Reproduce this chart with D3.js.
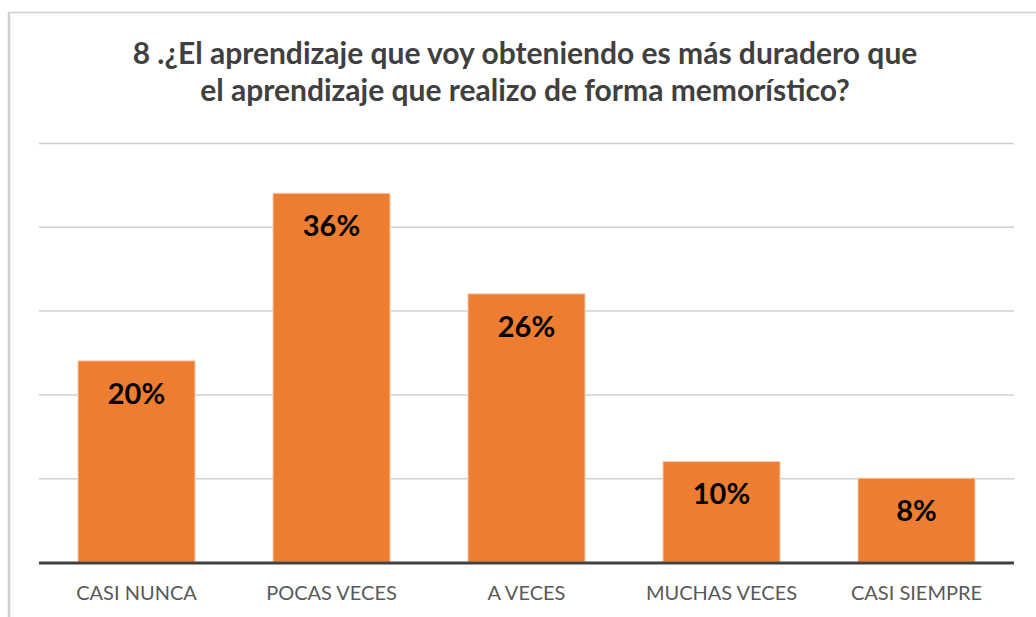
<!DOCTYPE html>
<html>
<head>
<meta charset="utf-8">
<script src="https://cdn.jsdelivr.net/npm/d3@7"></script>
<style>
  body { margin: 0; background: #fff; }
  svg { display: block; }
  .grid line { stroke: #d0d0d0; stroke-width: 1.5; }
  .grid path { display: none; }
  .x-axis path, .x-axis line { display: none; }
  .x-axis text { font-family: Lato, "Open Sans", sans-serif; font-size: 20px; fill: #595959; }
</style>
</head>
<body>
<div class="chart"></div>
<script>
var svgWidth = 1036;
var svgHeight = 617;

// respuestas (conteo) y porcentaje mostrado
var categories = ["CASI NUNCA", "POCAS VECES", "A VECES", "MUCHAS VECES", "CASI SIEMPRE"];
var counts = [12, 22, 16, 6, 5];
var percentLabels = ["20%", "36%", "26%", "10%", "8%"];
var gridTicks = [0, 5, 10, 15, 20, 25];
var titleLines = [
  "8 .\u00bfEl aprendizaje que voy obteniendo es m\u00e1s duradero que",
  "el aprendizaje que realizo de forma memor\u00edstico?"
];

var margin = { top: 143, right: 22, bottom: 55, left: 39 };
var width = svgWidth - margin.left - margin.right;
var height = svgHeight - margin.top - margin.bottom;

var data = categories.map(function(c, i) {
  return { cat: c, value: counts[i], label: percentLabels[i] };
});

var svg = d3.select(".chart")
  .append("svg")
  .attr("width", svgWidth)
  .attr("height", svgHeight);

// marco del gráfico
svg.append("rect")
  .attr("x", 9)
  .attr("y", 12.5)
  .attr("width", svgWidth + 20)
  .attr("height", svgHeight + 20)
  .attr("fill", "none")
  .attr("stroke", "#d0d0d0")
  .attr("stroke-width", 1.5);

svg.append("line")
  .attr("x1", 9).attr("x2", 9)
  .attr("y1", 12).attr("y2", svgHeight)
  .attr("stroke", "#cfcfcf")
  .attr("stroke-width", 2.5);

var title = svg.append("text")
  .attr("text-anchor", "middle")
  .attr("font-family", "Lato, 'Open Sans', sans-serif")
  .attr("font-weight", "bold")
  .attr("font-size", 30)
  .attr("fill", "#404040");

title.selectAll("tspan")
  .data(titleLines)
  .enter()
  .append("tspan")
  .attr("x", 525)
  .attr("y", (d, i) => 64 + i * 37)
  .text(d => d);

var chartGroup = svg.append("g")
  .attr("transform", `translate(${margin.left}, ${margin.top})`);

var xBandScale = d3.scaleBand()
  .domain(categories)
  .range([0, width])
  .paddingInner(0.4)
  .paddingOuter(0.2);

var yLinearScale = d3.scaleLinear()
  .domain([0, 25])
  .range([height, 0]);

chartGroup.append("g")
  .classed("grid", true)
  .call(d3.axisLeft(yLinearScale)
    .tickValues(gridTicks.slice(1))
    .tickSize(-width)
    .tickFormat(""));

chartGroup.selectAll(".bar")
  .data(data)
  .enter()
  .append("rect")
  .classed("bar", true)
  .attr("x", d => xBandScale(d.cat))
  .attr("y", d => yLinearScale(d.value))
  .attr("width", xBandScale.bandwidth())
  .attr("height", d => height - yLinearScale(d.value))
  .attr("fill", "#ed7d31")
  .attr("stroke", "#f8cbad")
  .attr("stroke-width", 1);

chartGroup.selectAll(".bar-label")
  .data(data)
  .enter()
  .append("text")
  .classed("bar-label", true)
  .attr("x", d => xBandScale(d.cat) + xBandScale.bandwidth() / 2)
  .attr("y", d => yLinearScale(d.value) + 43)
  .attr("text-anchor", "middle")
  .attr("font-family", "Lato, 'Open Sans', sans-serif")
  .attr("font-weight", "bold")
  .attr("font-size", 29)
  .attr("fill", "#000")
  .text(d => d.label);

// eje inferior
chartGroup.append("line")
  .attr("x1", 0)
  .attr("x2", width)
  .attr("y1", height + 1)
  .attr("y2", height + 1)
  .attr("stroke", "#404040")
  .attr("stroke-width", 3);

chartGroup.append("g")
  .classed("x-axis", true)
  .attr("transform", `translate(0, ${height})`)
  .call(d3.axisBottom(xBandScale).tickSize(0).tickPadding(24))
  .selectAll("text")
  .attr("dy", "0.71em");
</script>
</body>
</html>
